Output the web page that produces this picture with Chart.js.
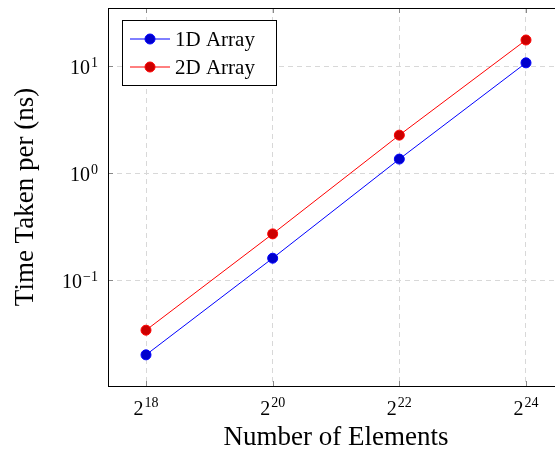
<!DOCTYPE html>
<html>
<head>
<meta charset="utf-8">
<script src="https://cdn.jsdelivr.net/npm/chart.js@4/dist/chart.umd.min.js"></script>
<style>
  html, body { margin: 0; padding: 0; background: #fff; overflow: hidden; }
  /* the plot runs a little past the right edge of the window, like the reference crop */
  #wrap { width: 580px; height: 454px; }
</style>
</head>
<body>
<div id="wrap"><canvas id="chart" width="580" height="454"></canvas></div>
<script>
// Number of elements (powers of two) and time per element.
const elementCounts = [262144, 1048576, 4194304, 16777216];
const time1D = [0.020, 0.16, 1.35, 10.7];
const time2D = [0.034, 0.27, 2.26, 17.5];
const xTickExponents = [18, 20, 22, 24];
const yTickExponents = [-1, 0, 1];

const FONT = "'Liberation Serif', 'Times New Roman', serif";
const BLUE = "#0000ff";
const RED = "#ff0000";

// pgfplots-style dressing: full frame, inward tick marks, superscript tick labels
// and the legend box sitting inside the top-left corner of the plot.
const pgfDecor = {
  id: "pgfDecor",
  beforeDatasetsDraw(chart) {
    const {ctx, chartArea: a, scales} = chart;
    ctx.save();
    ctx.strokeStyle = "#888";
    ctx.lineWidth = 1;
    ctx.beginPath();
    for (const e of xTickExponents) {
      const x = Math.round(scales.x.getPixelForValue(2 ** e)) + 0.5;
      ctx.moveTo(x, a.bottom); ctx.lineTo(x, a.bottom - 5);
      ctx.moveTo(x, a.top); ctx.lineTo(x, a.top + 5);
    }
    for (const e of yTickExponents) {
      const y = Math.round(scales.y.getPixelForValue(10 ** e)) + 0.5;
      ctx.moveTo(a.left, y); ctx.lineTo(a.left + 5, y);
    }
    ctx.stroke();
    ctx.restore();
  },
  afterDraw(chart) {
    const {ctx, chartArea: a, scales} = chart;
    ctx.save();
    ctx.strokeStyle = "#000";
    ctx.lineWidth = 1;
    ctx.strokeRect(Math.round(a.left) + 0.5, Math.round(a.top) + 0.5, a.right - a.left, a.bottom - a.top);

    ctx.fillStyle = "#000";
    ctx.textBaseline = "alphabetic";
    const base = `20px ${FONT}`;
    const sup = `14px ${FONT}`;

    // x tick labels: 2^n centred under each tick
    for (const e of xTickExponents) {
      const x = scales.x.getPixelForValue(2 ** e);
      ctx.font = base; const wb = ctx.measureText("2").width;
      ctx.font = sup; const ws = ctx.measureText(String(e)).width;
      const x0 = x - (wb + ws + 1) / 2;
      ctx.font = base; ctx.textAlign = "left"; ctx.fillText("2", x0, 415);
      ctx.font = sup; ctx.fillText(String(e), x0 + wb + 1, 407);
    }
    // y tick labels: 10^n right-aligned left of the axis
    for (const e of yTickExponents) {
      const y = scales.y.getPixelForValue(10 ** e);
      const exp = e < 0 ? "\u2212" + Math.abs(e) : String(e);
      const right = a.left - 10;
      ctx.font = sup; const ws = ctx.measureText(exp).width;
      ctx.textAlign = "left"; ctx.fillText(exp, right - ws, y + 1);
      ctx.font = base; ctx.textAlign = "right"; ctx.fillText("10", right - ws - 1, y + 8);
    }

    // legend box
    const lx = a.left + 14, ly = a.top + 12, lw = 154, lh = 65;
    ctx.fillStyle = "#fff";
    ctx.fillRect(lx, ly, lw, lh);
    ctx.strokeStyle = "#000";
    ctx.strokeRect(lx + 0.5, ly + 0.5, lw, lh);
    chart.data.datasets.forEach((ds, i) => {
      const cy = ly + 19 + i * 28;
      ctx.strokeStyle = ds.borderColor;
      ctx.lineWidth = 1;
      ctx.beginPath();
      ctx.moveTo(lx + 8, cy); ctx.lineTo(lx + 48, cy);
      ctx.stroke();
      ctx.beginPath();
      ctx.arc(lx + 28, cy, 5, 0, Math.PI * 2);
      ctx.fillStyle = ds.pointBackgroundColor;
      ctx.fill();
      ctx.stroke();
      ctx.fillStyle = "#000";
      ctx.font = `21px ${FONT}`;
      ctx.textAlign = "left";
      ctx.textBaseline = "middle";
      ctx.fillText(ds.label, lx + 53, cy + 1);
      ctx.textBaseline = "alphabetic";
    });
    ctx.restore();
  },
};

new Chart(document.getElementById("chart"), {
  type: "line",
  data: {
    datasets: [
      {
        label: "1D Array",
        data: elementCounts.map((n, i) => ({x: n, y: time1D[i]})),
        borderColor: BLUE,
        backgroundColor: BLUE,
        pointBackgroundColor: "#0000cc",
        pointBorderColor: BLUE,
        borderWidth: 1,
        pointRadius: 5,
        pointBorderWidth: 1,
      },
      {
        label: "2D Array",
        data: elementCounts.map((n, i) => ({x: n, y: time2D[i]})),
        borderColor: RED,
        backgroundColor: RED,
        pointBackgroundColor: "#cc0000",
        pointBorderColor: RED,
        borderWidth: 1,
        pointRadius: 5,
        pointBorderWidth: 1,
      },
    ],
  },
  plugins: [pgfDecor],
  options: {
    responsive: false,
    animation: false,
    layout: {padding: {top: 8, right: 16, left: 0, bottom: 0}},
    plugins: {legend: {display: false}, tooltip: {enabled: false}},
    scales: {
      x: {
        type: "logarithmic",
        min: 2 ** 17.4,
        max: 2 ** 24.6,
        afterBuildTicks: (s) => { s.ticks = xTickExponents.map((e) => ({value: 2 ** e})); },
        afterFit: (s) => { s.height = 68; },
        ticks: {display: false},
        grid: {color: "#d8d8d8", drawTicks: false},
        border: {display: false, dash: [5, 4]},
        title: {
          display: true,
          text: "Number of Elements",
          color: "#000",
          font: {family: FONT, size: 27},
          padding: {top: 0, bottom: 0},
        },
      },
      y: {
        type: "logarithmic",
        min: 10 ** -1.99,
        max: 10 ** 1.542,
        afterBuildTicks: (s) => { s.ticks = yTickExponents.map((e) => ({value: 10 ** e})); },
        afterFit: (s) => { s.width = 108; },
        ticks: {display: false},
        grid: {color: "#d8d8d8", drawTicks: false},
        border: {display: false, dash: [5, 4]},
        title: {
          display: true,
          text: "Time Taken per (ns)",
          color: "#000",
          font: {family: FONT, size: 27},
          padding: {top: 10, bottom: 0},
        },
      },
    },
  },
});
</script>
</body>
</html>
